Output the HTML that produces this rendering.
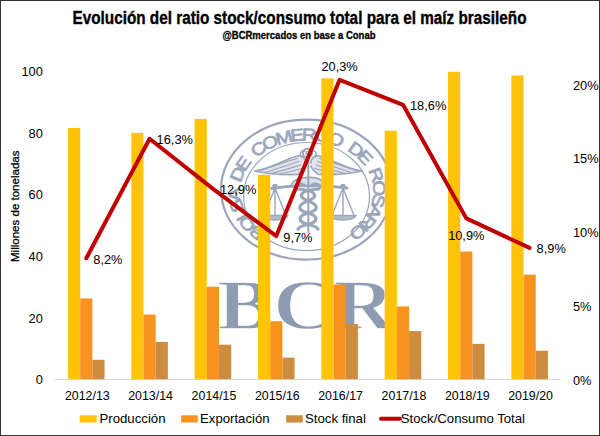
<!DOCTYPE html>
<html><head><meta charset="utf-8"><style>
html,body{margin:0;padding:0;background:#fff;}
body{width:600px;height:436px;overflow:hidden;position:relative;}
.frame{position:absolute;left:0;top:0;width:598px;height:434px;border:1px solid #333;}
svg{position:absolute;left:0;top:0;}
</style></head><body>
<svg width="600" height="436" viewBox="0 0 600 436">
<g fill="none" stroke="#9AA6BA">
<ellipse cx="306.5" cy="189.6" rx="85.5" ry="70" stroke-width="2.2"/>
<ellipse cx="306.5" cy="196.5" rx="63" ry="54" stroke-width="1.2"/>
</g>
<g font-family="&quot;Liberation Sans&quot;, sans-serif" font-size="17" fill="#9AA6BA" stroke="#9AA6BA" stroke-width="0.7" text-anchor="middle">
<text transform="translate(260.07,227.93) rotate(-142.7) scale(1.2,1)">B</text>
<text transform="translate(251.58,220.10) rotate(-131.1) scale(1.2,1)">O</text>
<text transform="translate(245.69,211.89) rotate(-119.3) scale(1.2,1)">L</text>
<text transform="translate(242.14,203.93) rotate(-107.8) scale(1.2,1)">S</text>
<text transform="translate(240.23,194.26) rotate(-93.7) scale(1.2,1)">A</text>
<text transform="translate(243.12,176.40) rotate(-67.6) scale(1.2,1)">D</text>
<text transform="translate(248.27,167.07) rotate(-54.3) scale(1.2,1)">E</text>
<text transform="translate(261.73,153.86) rotate(-35.0) scale(1.2,1)">C</text>
<text transform="translate(272.47,147.68) rotate(-24.6) scale(1.2,1)">O</text>
<text transform="translate(285.48,143.05) rotate(-14.4) scale(1.2,1)">M</text>
<text transform="translate(297.85,140.81) rotate(-5.8) scale(1.2,1)">E</text>
<text transform="translate(309.10,140.38) rotate(1.7) scale(1.2,1)">R</text>
<text transform="translate(320.97,141.53) rotate(9.7) scale(1.2,1)">C</text>
<text transform="translate(327.40,142.87) rotate(14.3) scale(1.2,1)">I</text>
<text transform="translate(334.32,144.94) rotate(19.5) scale(1.2,1)">O</text>
<text transform="translate(352.57,154.38) rotate(36.3) scale(1.2,1)">D</text>
<text transform="translate(360.79,161.58) rotate(47.0) scale(1.2,1)">E</text>
<text transform="translate(370.75,177.18) rotate(69.4) scale(1.2,1)">R</text>
<text transform="translate(373.33,188.61) rotate(86.1) scale(1.2,1)">O</text>
<text transform="translate(372.58,199.64) rotate(102.3) scale(1.2,1)">S</text>
<text transform="translate(369.37,209.03) rotate(115.9) scale(1.2,1)">A</text>
<text transform="translate(363.68,218.08) rotate(128.8) scale(1.2,1)">R</text>
<text transform="translate(359.44,222.80) rotate(135.6) scale(1.2,1)">I</text>
<text transform="translate(354.13,227.44) rotate(142.4) scale(1.2,1)">O</text>
</g>
<g fill="none" stroke="#9AA6BA" stroke-width="1.5" stroke-linecap="round" stroke-linejoin="round">
<line x1="308.3" y1="156" x2="308.3" y2="232" stroke-width="2"/>
<ellipse cx="307.5" cy="153" rx="4.6" ry="4.2" stroke-width="2"/>
<circle cx="307.5" cy="153" r="1.6"/>
<path d="M306,163 C305,157.5 301.5,154.5 297.5,156 C290,158 279,163.5 268,167.5 C262,169.5 258,170.5 254.5,171 C265,173.5 282,175 298,174.5 C302,172 305,168 306,166" fill="#9AA6BA" fill-opacity="0.3" stroke-width="1.6"/>
<path d="M260,171 C272,167 286,161.5 297,158.5 M265,172.5 C277,169 289,164.5 299,161.5 M271,173.5 C282,171 292,167.5 300.5,165 M279,174.2 C287,172.5 295,170.5 302,168.5" stroke-width="1.1"/>
<path d="M310.6,163.0 C311.6,157.5 315.1,154.5 319.1,156.0 C326.6,158.0 337.6,163.5 348.6,167.5 C354.6,169.5 358.6,170.5 362.1,171.0 C351.6,173.5 334.6,175.0 318.6,174.5 C314.6,172.0 311.6,168.0 310.6,166.0 " fill="#9AA6BA" fill-opacity="0.3" stroke-width="1.6"/>
<path d="M356.6,171.0 C344.6,167.0 330.6,161.5 319.6,158.5 M351.6,172.5 C339.6,169.0 327.6,164.5 317.6,161.5 M345.6,173.5 C334.6,171.0 324.6,167.5 316.1,165.0 M337.6,174.2 C329.6,172.5 321.6,170.5 314.6,168.5 " stroke-width="1.1"/>
<path d="M301,157 C299,153 302,149.5 305,151 M315.6,157 C317.6,153 314.6,149.5 311.6,151" stroke-width="1.4"/>
<path d="M271.5,188.5 C285,186 296,185.5 308.3,186 C321,185.5 332,186 347,188" stroke-width="2.8"/>
<path d="M291,185.5 C293,179.5 301,177 308.3,177.5 C316,177 323,179.5 326,185.5" fill="#9AA6BA" fill-opacity="0.35" stroke-width="1.6"/>
<circle cx="275.0" cy="186.5" r="2" fill="#9AA6BA"/>
<path d="M275.0,188 L264.0,215.5 M275.0,188 L286.0,215.5 M275.0,188 L275.0,215.5" stroke-width="1.4"/>
<path d="M262.0,215.5 C265.0,221.5 285.0,221.5 288.0,215.5 Z" fill="#9AA6BA" fill-opacity="0.75"/>
<circle cx="343.0" cy="186.5" r="2" fill="#9AA6BA"/>
<path d="M343.0,188 L332.0,215.5 M343.0,188 L354.0,215.5 M343.0,188 L343.0,215.5" stroke-width="1.4"/>
<path d="M330.0,215.5 C333.0,221.5 353.0,221.5 356.0,215.5 Z" fill="#9AA6BA" fill-opacity="0.75"/>
<path d="M297,189 C317,190 319,197 308,201 C297,205 297,210 308,213 C319,216 318,222 308,224.5 C303,225.5 299,227 298,229" stroke-width="3.2"/>
<path d="M319.0,189.0 C299.0,190.0 297.0,197.0 308.0,201.0 C319.0,205.0 319.0,210.0 308.0,213.0 C297.0,216.0 298.0,222.0 308.0,224.5 C313.0,225.5 317.0,227.0 318.0,229.0 " stroke-width="3.2"/>
<path d="M297,189 C294,185.5 299,182.5 304,184.5 M319,189 C322,185.5 317,182.5 312,184.5" stroke-width="2.4"/>
</g>
<text transform="translate(217.5,329.4) scale(1.18,1)" font-family="&quot;Liberation Serif&quot;, serif" font-weight="bold" font-size="71" fill="#8E9BB1" stroke="#fff" stroke-width="1.3" letter-spacing="0">BCR</text>
<line x1="54.6" y1="379.5" x2="561.3" y2="379.5" stroke="#D9D9D9" stroke-width="1"/>
<rect x="68.00" y="127.94" width="12.18" height="251.26" fill="#FFC40A"/>
<rect x="80.18" y="298.43" width="12.18" height="80.77" fill="#F7931E"/>
<rect x="92.36" y="359.78" width="12.18" height="19.42" fill="#CD8C3E"/>
<rect x="131.34" y="132.87" width="12.18" height="246.33" fill="#FFC40A"/>
<rect x="143.52" y="314.61" width="12.18" height="64.59" fill="#F7931E"/>
<rect x="155.70" y="341.90" width="12.18" height="37.30" fill="#CD8C3E"/>
<rect x="194.68" y="118.99" width="12.18" height="260.21" fill="#FFC40A"/>
<rect x="206.86" y="286.71" width="12.18" height="92.49" fill="#F7931E"/>
<rect x="219.04" y="344.67" width="12.18" height="34.53" fill="#CD8C3E"/>
<rect x="258.02" y="174.80" width="12.18" height="204.40" fill="#FFC40A"/>
<rect x="270.20" y="321.24" width="12.18" height="57.96" fill="#F7931E"/>
<rect x="282.38" y="357.62" width="12.18" height="21.58" fill="#CD8C3E"/>
<rect x="321.36" y="78.30" width="12.18" height="300.90" fill="#FFC40A"/>
<rect x="333.54" y="284.55" width="12.18" height="94.65" fill="#F7931E"/>
<rect x="345.72" y="324.01" width="12.18" height="55.19" fill="#CD8C3E"/>
<rect x="384.70" y="130.71" width="12.18" height="248.49" fill="#FFC40A"/>
<rect x="396.88" y="306.44" width="12.18" height="72.76" fill="#F7931E"/>
<rect x="409.06" y="331.11" width="12.18" height="48.09" fill="#CD8C3E"/>
<rect x="448.04" y="71.82" width="12.18" height="307.38" fill="#FFC40A"/>
<rect x="460.22" y="251.56" width="12.18" height="127.64" fill="#F7931E"/>
<rect x="472.40" y="343.90" width="12.18" height="35.30" fill="#CD8C3E"/>
<rect x="511.38" y="75.52" width="12.18" height="303.68" fill="#FFC40A"/>
<rect x="523.56" y="274.69" width="12.18" height="104.51" fill="#F7931E"/>
<rect x="535.74" y="350.68" width="12.18" height="28.52" fill="#CD8C3E"/>
<polyline points="86.3,258.2 149.6,138.8 213.0,188.9 276.3,236.1 339.6,79.8 403.0,104.8 466.3,218.4 529.6,247.9" fill="none" stroke="#C00000" stroke-width="4" stroke-linejoin="round" stroke-linecap="round"/>
<g font-family="&quot;Liberation Sans&quot;, sans-serif" font-size="12.8" fill="#000">
<text x="93.3" y="263.8">8,2%</text>
<text x="156.6" y="144.3">16,3%</text>
<text x="220.0" y="194.4">12,9%</text>
<text x="283.3" y="241.6">9,7%</text>
<text x="339.6" y="70.8" text-anchor="middle">20,3%</text>
<text x="410.0" y="110.3">18,6%</text>
<text x="466.3" y="240.4" text-anchor="middle">10,9%</text>
<text x="536.6" y="253.4">8,9%</text>
</g>
<g font-family="&quot;Liberation Sans&quot;, sans-serif" font-size="12.8" fill="#000">
<text x="42.8" y="384.4" text-anchor="end">0</text>
<text x="42.8" y="322.7" text-anchor="end">20</text>
<text x="42.8" y="261.1" text-anchor="end">40</text>
<text x="42.8" y="199.4" text-anchor="end">60</text>
<text x="42.8" y="137.8" text-anchor="end">80</text>
<text x="42.8" y="76.1" text-anchor="end">100</text>
<text x="573" y="384.5">0%</text>
<text x="573" y="310.8">5%</text>
<text x="573" y="237.0">10%</text>
<text x="573" y="163.2">15%</text>
<text x="573" y="89.5">20%</text>
<text x="87.3" y="399.8" font-size="12.4" text-anchor="middle">2012/13</text>
<text x="150.6" y="399.8" font-size="12.4" text-anchor="middle">2013/14</text>
<text x="214.0" y="399.8" font-size="12.4" text-anchor="middle">2014/15</text>
<text x="277.3" y="399.8" font-size="12.4" text-anchor="middle">2015/16</text>
<text x="340.6" y="399.8" font-size="12.4" text-anchor="middle">2016/17</text>
<text x="404.0" y="399.8" font-size="12.4" text-anchor="middle">2017/18</text>
<text x="467.3" y="399.8" font-size="12.4" text-anchor="middle">2018/19</text>
<text x="530.6" y="399.8" font-size="12.4" text-anchor="middle">2019/20</text>
</g>
<text transform="translate(19.4,262) rotate(-90)" font-family="&quot;Liberation Sans&quot;, sans-serif" font-size="11" stroke="#000" stroke-width="0.25" textLength="111.5" lengthAdjust="spacingAndGlyphs">Millones de toneladas</text>
<g font-family="&quot;Liberation Sans&quot;, sans-serif" font-size="13.2" fill="#000">
<rect x="79.7" y="415.3" width="17" height="7.2" fill="#FFC40A"/>
<text x="99.5" y="422.5">Producción</text>
<rect x="181.2" y="415.3" width="16.6" height="7.2" fill="#F7931E"/>
<text x="200" y="422.5">Exportación</text>
<rect x="286.2" y="415.3" width="16.6" height="7.2" fill="#CD8C3E"/>
<text x="305" y="422.5">Stock final</text>
<line x1="381" y1="418.8" x2="400" y2="418.8" stroke="#C00000" stroke-width="4" stroke-linecap="round"/>
<text x="400.7" y="422.5">Stock/Consumo Total</text>
</g>
<text x="72.5" y="24" font-family="&quot;Liberation Sans&quot;, sans-serif" font-weight="bold" font-size="18" stroke="#000" stroke-width="0.35" textLength="454" lengthAdjust="spacingAndGlyphs">Evolución del ratio stock/consumo total para el maíz brasileño</text>
<text x="222.5" y="38.8" font-family="&quot;Liberation Sans&quot;, sans-serif" font-weight="bold" font-size="11" stroke="#000" stroke-width="0.3" textLength="153" lengthAdjust="spacingAndGlyphs">@BCRmercados en base a Conab</text>
</svg>
<div class="frame"></div>
</body></html>
